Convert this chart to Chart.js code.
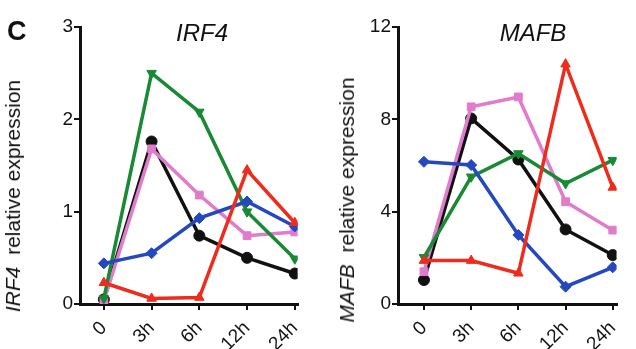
<!DOCTYPE html>
<html><head><meta charset="utf-8">
<script src="https://cdn.jsdelivr.net/npm/chart.js@4/dist/chart.umd.min.js"></script>
<style>
html,body{margin:0;padding:0;background:#fff;}
#wrap{position:relative;width:636px;height:349px;overflow:hidden;font-family:"Liberation Sans",Arial,sans-serif;}
.cv{position:absolute;top:0;}
.lbl{position:absolute;color:#111;white-space:nowrap;}
.ylab{position:absolute;transform:translate(-50%,-50%) rotate(-90deg);font-size:21px;color:#111;white-space:nowrap;}
</style></head><body>
<div id="wrap">
  <div class="cv" style="left:0;width:318px;height:349px;"><canvas id="c1"></canvas></div>
  <div class="cv" style="left:318px;width:318px;height:349px;"><canvas id="c2"></canvas></div>
  <div class="lbl" style="left:7px;top:16px;font-size:27px;font-weight:bold;">C</div>
  <div class="lbl" style="left:202px;top:19px;font-size:24px;font-style:italic;transform:translateX(-50%);">IRF4</div>
  <div class="lbl" style="left:533px;top:19px;font-size:24px;font-style:italic;transform:translateX(-50%);">MAFB</div>
  <div class="ylab" style="left:13px;top:196px;"><i>IRF4</i>&nbsp; relative expression</div>
  <div class="ylab" style="left:347px;top:200px;"><i>MAFB</i>&nbsp; relative expression</div>
</div>
<script>
const timeLabels = ["0", "3h", "6h", "12h", "24h"];
const timeIndex = [0, 1, 2, 3, 4];

const irf4Black = [0.05, 1.76, 0.74, 0.50, 0.33];
const irf4Pink  = [0.03, 1.68, 1.18, 0.74, 0.78];
const irf4Green = [0.06, 2.50, 2.08, 1.00, 0.49];
const irf4Blue  = [0.44, 0.55, 0.93, 1.11, 0.84];
const irf4Red   = [0.23, 0.06, 0.07, 1.45, 0.88];

const mafbBlack = [1.04, 8.04, 6.26, 3.23, 2.12];
const mafbPink  = [1.40, 8.54, 8.97, 4.43, 3.20];
const mafbGreen = [2.02, 5.51, 6.52, 5.22, 6.23];
const mafbBlue  = [6.16, 6.02, 2.99, 0.75, 1.59];
const mafbRed   = [1.88, 1.88, 1.33, 10.39, 5.05];

const irf4Ticks = [0, 1, 2, 3];
const mafbTicks = [0, 4, 8, 12];

const COL = {black:"#111111", pink:"#e07ccb", green:"#178a33", blue:"#2448c0", red:"#ee2b1c"};

function pts(arr){ return arr.map((v,i)=>({x:timeIndex[i], y:v})); }
function ds(data,color,style,rot){
  return {data:pts(data), borderColor:color, backgroundColor:color, borderWidth:3.5,
    pointStyle:style, pointRotation:rot||0, pointRadius:5.5, pointHoverRadius:5.5, pointBorderWidth:1, tension:0};
}

function make(id, series, yMax, yTicks, yAxisWidth, xMin, xMax, padRight){
  const datasets = [
    ds(series.red, COL.red, 'triangle'),
    ds(series.blue, COL.blue, 'rectRot'),
    ds(series.green, COL.green, 'triangle', 180),
    ds(series.pink, COL.pink, 'rect'),
    ds(series.black, COL.black, 'circle'),
  ];
  new Chart(document.getElementById(id), {
    type:'line',
    data:{datasets},
    options:{
      responsive:true, maintainAspectRatio:false, animation:false,
      layout:{padding:{top:27, right:padRight, left:0, bottom:0}},
      plugins:{legend:{display:false}, tooltip:{enabled:false}},
      scales:{
        x:{type:'linear', min:xMin, max:xMax,
          afterBuildTicks:(s)=>{ s.ticks = timeIndex.map(v=>({value:v})); },
          afterFit:(s)=>{ s.height = 45; },
          ticks:{callback:(v)=>timeLabels[v], minRotation:45, maxRotation:45, color:'#111', padding:7,
            font:{family:'"Liberation Sans", Arial, sans-serif', size:19}},
          grid:{display:true, drawOnChartArea:false, drawTicks:true, tickLength:6, color:'#111', lineWidth:2},
          border:{display:true, color:'#111', width:3}
        },
        y:{type:'linear', min:0, max:yMax,
          afterBuildTicks:(s)=>{ s.ticks = yTicks.map(v=>({value:v})); },
          afterFit:(s)=>{ s.width = yAxisWidth; },
          ticks:{color:'#111', padding:1,
            font:{family:'"Liberation Sans", Arial, sans-serif', size:19}},
          grid:{display:true, drawOnChartArea:false, drawTicks:true, tickLength:6, color:'#111', lineWidth:2},
          border:{display:true, color:'#111', width:3}
        }
      }
    }
  });
}

make('c1', {black:irf4Black, pink:irf4Pink, green:irf4Green, blue:irf4Blue, red:irf4Red}, 3, irf4Ticks, 80, -0.5, 4.06, 8);
make('c2', {black:mafbBlack, pink:mafbPink, green:mafbGreen, blue:mafbBlue, red:mafbRed}, 12, mafbTicks, 80, -0.55, 4.08, 0);
</script>
</body></html>
